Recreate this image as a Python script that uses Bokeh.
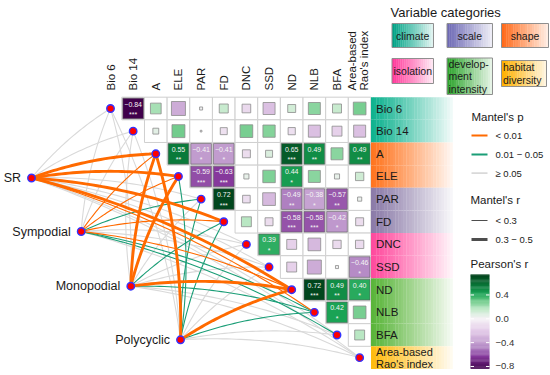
import numpy as np
from bokeh.plotting import figure
from bokeh.models import Range1d
from bokeh.core.properties import value
from bokeh.embed import file_html
from bokeh.resources import INLINE

FONT = value("Liberation Sans")

# ---------------- data ----------------
variables = ["Bio 6", "Bio 14", "A", "ELE", "PAR", "FD", "DNC", "SSD",
             "ND", "NLB", "BFA", "Area-based\nRao's index"]
var_category = ["climate", "climate", "shape", "shape", "scale", "scale",
                "isolation", "isolation", "development intensity",
                "development intensity", "development intensity",
                "habitat diversity"]

# Pearson's r, upper triangle, row i holds columns i+1 .. 11
r_upper = [
    [-0.84, 0.20, -0.34, 0.016, 0.14, -0.13, -0.25, 0.11, 0.25, 0.14, 0.28],
    [0.06, 0.29, 0.005, -0.085, 0.28, 0.26, -0.09, -0.25, -0.17, -0.25],
    [0.55, -0.41, -0.41, -0.11, 0.085, 0.65, 0.49, 0.25, 0.49],
    [-0.59, -0.63, 0.045, 0.27, 0.44, 0.25, 0.045, 0.12],
    [0.72, -0.10, -0.28, -0.49, -0.38, -0.57, 0.03],
    [0.17, -0.11, -0.58, -0.58, -0.42, -0.11],
    [0.39, -0.17, -0.28, -0.12, -0.12],
    [-0.17, -0.34, 0.016, -0.46],
    [0.72, 0.49, 0.40],
    [0.42, 0.28],
    [0.17],
]
sig_upper = [
    ["***", "", "", "", "", "", "", "", "", "", ""],
    ["", "", "", "", "", "", "", "", "", ""],
    ["**", "*", "*", "", "", "***", "**", "", "**"],
    ["***", "***", "", "", "*", "", "", ""],
    ["***", "", "", "**", "*", "**", ""],
    ["", "", "***", "***", "*", ""],
    ["*", "", "", "", ""],
    ["", "", "", "*"],
    ["***", "**", "*"],
    ["*", ""],
    [""],
]

spec_names = ["SR", "Sympodial", "Monopodial", "Polycyclic"]
# Mantel's p class per variable: "o" < 0.01, "g" 0.01-0.05, "n" >= 0.05
mantel_p = {
    "SR":         ["n", "n", "o", "o", "n", "o", "n", "n", "o", "o", "n", "n"],
    "Sympodial":  ["n", "n", "o", "o", "g", "o", "n", "n", "o", "g", "g", "n"],
    "Monopodial": ["n", "n", "o", "o", "n", "g", "n", "n", "o", "g", "n", "n"],
    "Polycyclic": ["n", "n", "o", "g", "g", "g", "n", "n", "o", "g", "n", "n"],
}
# Mantel's r class: "t" < 0.3, "T" 0.3-0.5
mantel_r = {
    "SR":         ["t", "t", "T", "T", "t", "T", "t", "t", "T", "t", "t", "t"],
    "Sympodial":  ["t", "t", "t", "t", "t", "t", "t", "t", "t", "t", "t", "t"],
    "Monopodial": ["t", "t", "T", "T", "t", "t", "t", "t", "T", "t", "t", "t"],
    "Polycyclic": ["t", "t", "T", "t", "t", "t", "t", "t", "T", "t", "t", "t"],
}

p_levels = ["< 0.01", "0.01 \u2212 0.05", "\u2265 0.05"]
r_levels = ["< 0.3", "0.3 \u2212 0.5"]
pearson_ticks = [0.4, 0.0, -0.4, -0.8]
pearson_tick_labels = ["0.4", "0.0", "\u22120.4", "\u22120.8"]
pearson_range = [-0.84, 0.74]
category_names = ["climate", "scale", "shape", "isolation",
                  "development intensity", "habitat diversity"]
category_labels = ["climate", "scale", "shape", "isolation",
                   "develop-\nment\nintensity", "habitat\ndiversity"]

# ---------------- styles / layout ----------------
X0, Y0, CW = 110.0, 108.0, 22.65
spec_pos = {"SR": (31.0, 177.5), "Sympodial": (80.7, 231.0),
            "Monopodial": (130.3, 285.7), "Polycyclic": (180.0, 339.3)}
p_color = {"o": "#ff6a00", "g": "#1b9e77", "n": "#d9d9d9"}
r_width = {"t": 1.1, "T": 2.9}
cat_color = {"climate": "#0fb28f", "shape": "#ff7520", "scale": "#8b7ba8",
             "isolation": "#ff4b9e", "development intensity": "#5ab53a",
             "habitat diversity": "#ffbb10"}
cat_box_color = {"climate": "#00a386", "scale": "#6e6ab5", "shape": "#ff6a1a",
                 "isolation": "#ff3b9b", "development intensity": "#2ea52e",
                 "habitat diversity": "#ffb000"}

stops_v = [-0.84, -0.63, -0.5, -0.4, -0.2, 0.0, 0.15, 0.3, 0.42, 0.55, 0.74]
stops_c = ["#40004b", "#86399c", "#ad7dbf", "#c39fd0", "#e3cbe8", "#f6f2f6",
           "#c5ebcc", "#6cca88", "#1aa355", "#0a7a3a", "#00401a"]


def h2rgb(h):
    return [int(h[i:i + 2], 16) for i in (1, 3, 5)]


def rgb2h(c):
    return "#%02x%02x%02x" % tuple(int(round(v)) for v in c)


def mix(h1, h2, t):
    a, b = h2rgb(h1), h2rgb(h2)
    return rgb2h([a[k] + (b[k] - a[k]) * t for k in range(3)])


_sc = np.array([h2rgb(c) for c in stops_c], dtype=float)


def cmap(v):
    return rgb2h([np.interp(v, stops_v, _sc[:, k]) for k in range(3)])


p = figure(width=550, height=375, x_range=Range1d(0, 550), y_range=Range1d(375, 0),
           output_backend="svg", toolbar_location=None, min_border=0,
           x_axis_type=None, y_axis_type=None)
p.grid.visible = False
p.outline_line_color = None
p.background_fill_color = "white"
p.border_fill_color = "white"


def txt(x, y, t, size, align="left", baseline="middle", color="#1a1a1a", angle=0.0, lh=1.2):
    p.text(x=[x], y=[y], text=[t], text_font=FONT, text_font_size=value(size),
           text_align=align, text_baseline=baseline, text_color=color, angle=angle,
           text_line_height=lh)


# ---------------- network links ----------------
def curve(x0, y0, x1, y1, c=0.08, n=40):
    dx, dy = x1 - x0, y1 - y0
    L = np.hypot(dx, dy)
    if x1 >= x0:
        nx, ny = dy / L, -dx / L
    else:
        nx, ny = -dy / L, dx / L
    cx = (x0 + x1) / 2 + nx * c * L
    cy = (y0 + y1) / 2 + ny * c * L
    t = np.linspace(0, 1, n)
    bx = (1 - t) ** 2 * x0 + 2 * (1 - t) * t * cx + t ** 2 * x1
    by = (1 - t) ** 2 * y0 + 2 * (1 - t) * t * cy + t ** 2 * y1
    return list(bx), list(by)


env_pos = [(X0 + i * CW, Y0 + i * CW) for i in range(len(variables))]
for level in ["n", "g", "o"]:
    for s in spec_names:
        sx, sy = spec_pos[s]
        for j, (ex, ey) in enumerate(env_pos):
            if mantel_p[s][j] != level:
                continue
            xs, ys = curve(sx, sy, ex, ey)
            p.line(xs, ys, line_color=p_color[level], line_width=r_width[mantel_r[s][j]],
                   line_cap="round")

# ---------------- correlation cells ----------------
for i, row in enumerate(r_upper):
    for k, r in enumerate(row):
        j = i + 1 + k
        cx, cy = X0 + j * CW, Y0 + i * CW
        p.rect(x=[cx], y=[cy], width=CW, height=CW, fill_color="white",
               line_color="#cfcfcf", line_width=1)
for i, row in enumerate(r_upper):
    for k, r in enumerate(row):
        j = i + 1 + k
        cx, cy = X0 + j * CW, Y0 + i * CW
        s = sig_upper[i][k]
        if s:
            p.rect(x=[cx], y=[cy], width=CW - 2, height=CW - 2, fill_color=cmap(r),
                   line_color="#5a5a5a", line_width=0.6)
            lab = ("%.2f" % r).replace("-", "\u2212")
            txt(cx, cy - 4.5, lab, "7px", align="center", color="#f4f4f4")
            txt(cx, cy + 6, s, "7px", align="center", color="#f4f4f4")
        else:
            side = min(CW - 3, 24 * np.sqrt(abs(r)))
            p.rect(x=[cx], y=[cy], width=side, height=side, fill_color=cmap(r),
                   line_color="#8c8c8c", line_width=0.8)

# nodes
nx_ = [e[0] for e in env_pos] + [spec_pos[s][0] for s in spec_names]
ny_ = [e[1] for e in env_pos] + [spec_pos[s][1] for s in spec_names]
p.scatter(nx_, ny_, size=7.5, fill_color="#ff0000", line_color="#3333ff", line_width=1.4)

# spec labels
for s in spec_names:
    sx, sy = spec_pos[s]
    txt(sx - 10.5, sy, s, "12.5px", align="right")

# column labels (rotated)
for j, v in enumerate(variables):
    txt(X0 + j * CW - (1.5 if "\n" in v else 0), 90, v, "11.5px", angle=np.pi / 2, lh=1.0)

# right-hand category band
band_x0, band_x1, nstrip = X0 + 11.5 * CW, 452.0, 30
edges = np.linspace(band_x0, band_x1, nstrip + 1)
for i, v in enumerate(variables):
    col = cat_color[var_category[i]]
    top, bot = Y0 + (i - 0.5) * CW, Y0 + (i + 0.5) * CW
    cols = [mix(col, "#ffffff", (k / nstrip) ** 1.1 * 0.97) for k in range(nstrip)]
    p.quad(left=list(edges[:-1]), right=list(edges[1:] + 0.3), top=[top] * nstrip,
           bottom=[bot] * nstrip, fill_color=cols, line_color=None)
    txt(band_x0 + 5, Y0 + i * CW, v, "11.5px" if "\n" not in v else "11px",
        lh=1.0)

# ---------------- legend: variable categories ----------------
txt(390, 12, "Variable categories", "13px")
boxes = {"climate": (391.5, 433, 23, 47), "scale": (446.5, 492, 23, 47),
         "shape": (501, 548, 23, 47), "isolation": (391.5, 433, 58, 83),
         "development intensity": (446.5, 492, 57.5, 94),
         "habitat diversity": (501, 546, 60, 86)}
for name, lab in zip(category_names, category_labels):
    l, r_, t, b = boxes[name]
    n = 20
    ed = np.linspace(l, r_, n + 1)
    cols = [mix(cat_box_color[name], "#ffffff", (k / n) * 0.92) for k in range(n)]
    p.quad(left=list(ed[:-1]), right=list(ed[1:] + 0.3), top=[t] * n, bottom=[b] * n,
           fill_color=cols, line_color=None)
    p.quad(left=[l], right=[r_], top=[t], bottom=[b], fill_color=None,
           line_color="#8f8f8f", line_width=1)
    if "\n" in lab:
        txt(l + 1.5, (t + b) / 2, lab, "10.5px", lh=1.05)
    else:
        txt((l + r_) / 2, (t + b) / 2, lab, "10.5px", align="center")

# ---------------- legend: Mantel's p / r ----------------
txt(471, 116, "Mantel's p", "11.5px")
for lev, code, y in zip(p_levels, ["o", "g", "n"], [135, 154, 172.7]):
    p.line([471, 487], [y, y], line_color=p_color[code], line_width=1.8)
    txt(495, y, lev, "9.5px")
txt(470, 199.5, "Mantel's r", "11.5px")
for lev, code, y in zip(r_levels, ["t", "T"], [220, 239]):
    p.line([471, 487], [y, y], line_color="#4d4d4d", line_width=r_width[code])
    txt(495, y, lev, "9.5px")

# ---------------- legend: Pearson's r colour bar ----------------
txt(470, 263, "Pearson's r", "11.5px")
def cb_y(v):
    return 318.3 - 59.6 * v
vals = np.linspace(pearson_range[0], pearson_range[1], 81)
p.quad(left=[470] * 80, right=[489] * 80, bottom=[cb_y(v) for v in vals[:-1]],
       top=[cb_y(v) - 0.3 for v in vals[1:]] , fill_color=[cmap((a + b) / 2) for a, b in zip(vals[:-1], vals[1:])],
       line_color=None)
for v, lab in zip(pearson_ticks, pearson_tick_labels):
    y = cb_y(v)
    p.line([470, 473.5], [y, y], line_color="white", line_width=1)
    p.line([485.5, 489], [y, y], line_color="white", line_width=1)
    txt(495, y, lab, "9.5px", color="#333333")

open("out.html", "w").write(file_html(p, INLINE))
